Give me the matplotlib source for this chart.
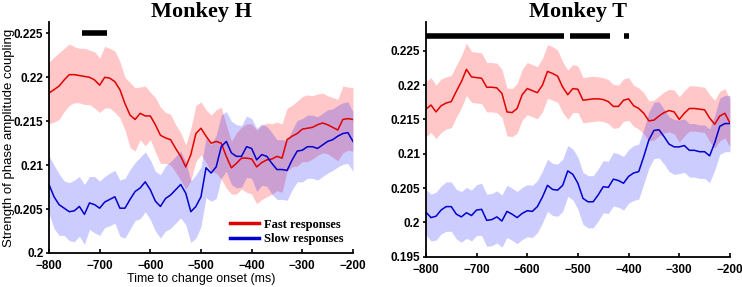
import matplotlib.pyplot as plt
import numpy as np

# time axis (ms before change onset), 10 ms steps
t = np.arange(-800, -199, 10)

# Monkey H
h_fast = [0.2182, 0.2186, 0.2190, 0.2197, 0.2203, 0.2203, 0.2202, 0.2201, 0.2200, 0.2197,
          0.2191, 0.2200, 0.2199, 0.2195, 0.2186, 0.2170, 0.2157, 0.2152, 0.2159, 0.2156,
          0.2156, 0.2146, 0.2134, 0.2131, 0.2129, 0.2119, 0.2110, 0.2098, 0.2112, 0.2136,
          0.2142, 0.2133, 0.2125, 0.2127, 0.2125, 0.2110, 0.2097, 0.2102, 0.2108, 0.2108,
          0.2107, 0.2098, 0.2103, 0.2106, 0.2107, 0.2110, 0.2108, 0.2129, 0.2133, 0.2136,
          0.2141, 0.2142, 0.2143, 0.2146, 0.2148, 0.2146, 0.2143, 0.2140, 0.2152, 0.2153,
          0.2152]
h_fast_sem = [3.5, 3.7, 3.8, 3.6, 3.5, 3.2, 3.1, 3.2, 3.1, 3.2, 3.1, 3.5, 3.4, 3.5, 3.2, 3.0,
              3.7, 3.6, 3.0, 3.4, 2.7, 3.1, 3.2, 2.9, 2.9, 2.7, 2.7, 2.5, 3.0, 3.2, 3.0, 3.0,
              3.2, 3.6, 4.1, 3.6, 3.0, 3.5, 3.5, 3.9, 4.0, 4.2, 4.2, 4.2, 4.0, 3.9, 3.9, 3.6,
              3.5, 3.7, 3.7, 3.8, 3.6, 3.5, 3.4, 3.3, 3.4, 3.5, 3.8, 3.6, 3.6]
h_slow = [0.2078, 0.2064, 0.2055, 0.2051, 0.2047, 0.2048, 0.2053, 0.2044, 0.2057, 0.2055,
          0.2051, 0.2058, 0.2061, 0.2064, 0.2051, 0.2051, 0.2061, 0.2070, 0.2074, 0.2081,
          0.2072, 0.2059, 0.2053, 0.2062, 0.2066, 0.2072, 0.2078, 0.2068, 0.2047, 0.2053,
          0.2064, 0.2097, 0.2091, 0.2098, 0.2121, 0.2127, 0.2114, 0.2110, 0.2110, 0.2121,
          0.2119, 0.2106, 0.2112, 0.2110, 0.2102, 0.2095, 0.2095, 0.2094, 0.2106, 0.2116,
          0.2117, 0.2121, 0.2121, 0.2119, 0.2123, 0.2127, 0.2129, 0.2133, 0.2136, 0.2137,
          0.2127]
h_slow_sem = [3.3, 3.6, 3.5, 3.1, 3.3, 3.5, 3.4, 3.4, 3.0, 3.2, 3.1, 2.9, 3.0, 3.0, 3.2, 3.4,
              3.4, 3.3, 3.5, 3.4, 3.4, 3.4, 3.6, 3.7, 3.8, 3.8, 3.8, 3.6, 3.5, 3.6, 3.4, 3.4,
              3.2, 3.6, 3.6, 3.4, 3.6, 3.6, 3.5, 3.5, 3.4, 3.6, 3.5, 3.4, 3.5, 3.4, 3.4, 3.4,
              3.4, 3.5, 3.6, 3.6, 3.6, 3.6, 3.6, 3.6, 3.5, 3.5, 3.5, 3.5, 3.4]

# Monkey T
t_fast = [0.2165, 0.2171, 0.2161, 0.2170, 0.2174, 0.2176, 0.2191, 0.2205, 0.2223, 0.2212,
          0.2211, 0.2210, 0.2197, 0.2197, 0.2196, 0.2188, 0.2161, 0.2160, 0.2166, 0.2186,
          0.2195, 0.2192, 0.2189, 0.2200, 0.2220, 0.2217, 0.2213, 0.2197, 0.2186, 0.2195,
          0.2194, 0.2178, 0.2179, 0.2180, 0.2180, 0.2179, 0.2176, 0.2169, 0.2169, 0.2178,
          0.2180, 0.2170, 0.2166, 0.2159, 0.2148, 0.2149, 0.2155, 0.2160, 0.2163, 0.2161,
          0.2150, 0.2159, 0.2166, 0.2166, 0.2165, 0.2164, 0.2152, 0.2143, 0.2155, 0.2159,
          0.2145]
t_fast_sem = [4.0, 4.0, 3.9, 3.9, 3.8, 3.8, 3.8, 3.8, 3.8, 3.7, 3.7, 3.7, 3.6, 3.6, 3.6, 3.5,
              3.5, 3.5, 3.6, 3.7, 3.8, 3.8, 3.8, 3.9, 3.9, 3.9, 3.8, 3.7, 3.6, 3.5, 3.4, 3.3,
              3.3, 3.3, 3.2, 3.2, 3.2, 3.2, 3.1, 3.1, 3.1, 3.0, 3.0, 3.0, 2.9, 2.9, 2.9, 3.0,
              3.1, 3.2, 3.3, 3.3, 3.3, 3.3, 3.3, 3.3, 3.4, 3.5, 3.6, 3.6, 3.5]
t_slow = [0.2015, 0.2007, 0.2009, 0.2018, 0.2023, 0.2023, 0.2012, 0.2008, 0.2014, 0.2010,
          0.2018, 0.2019, 0.2003, 0.2004, 0.2008, 0.2002, 0.2016, 0.2012, 0.2007, 0.2013,
          0.2017, 0.2016, 0.2023, 0.2037, 0.2054, 0.2048, 0.2047, 0.2054, 0.2075, 0.2070,
          0.2057, 0.2035, 0.2030, 0.2030, 0.2040, 0.2052, 0.2051, 0.2063, 0.2061, 0.2057,
          0.2067, 0.2072, 0.2074, 0.2096, 0.2120, 0.2134, 0.2135, 0.2125, 0.2114, 0.2110,
          0.2110, 0.2112, 0.2105, 0.2105, 0.2103, 0.2103, 0.2097, 0.2116, 0.2140, 0.2144,
          0.2144]
t_slow_sem = [3.3, 3.4, 3.5, 3.5, 3.6, 3.6, 3.6, 3.7, 3.7, 3.7, 3.7, 3.8, 3.8, 3.8, 3.8, 3.8,
              3.8, 3.8, 3.8, 3.8, 3.8, 3.8, 3.8, 3.8, 3.8, 3.8, 3.8, 3.8, 3.7, 3.7, 3.8, 3.8,
              3.8, 3.8, 3.8, 3.8, 3.8, 3.9, 3.9, 3.9, 3.9, 4.0, 4.0, 4.0, 4.1, 4.1, 4.1, 4.0,
              4.0, 4.0, 3.9, 3.9, 3.9, 3.9, 3.9, 3.9, 3.9, 4.0, 4.1, 4.1, 4.1]

# significance bars (start, end in ms)
h_sig = [(-735, -685)]
t_sig = [(-800, -527), (-515, -437), (-410, -399)]

red_line = '#e00000'
blue_line = '#0000cc'

fig = plt.figure(figsize=(7.42, 2.87), dpi=100)
ax_h = fig.add_axes([0.066, 0.1185, 0.4097, 0.805])
ax_t = fig.add_axes([0.574, 0.1056, 0.4097, 0.8177])

panels = [
    (ax_h, 'Monkey H', h_fast, h_fast_sem, h_slow, h_slow_sem, h_sig, (0.2, 0.2263),
     [0.2, 0.205, 0.21, 0.215, 0.22, 0.225], 0.225),
    (ax_t, 'Monkey T', t_fast, t_fast_sem, t_slow, t_slow_sem, t_sig, (0.195, 0.2292),
     [0.195, 0.2, 0.205, 0.21, 0.215, 0.22, 0.225], 0.2272),
]

for ax, title, fast, fast_sem, slow, slow_sem, sig, ylim, yticks, bar_y in panels:
    fast = np.array(fast)
    slow = np.array(slow)
    fs = np.array(fast_sem) / 1000
    ss = np.array(slow_sem) / 1000
    ax.fill_between(t, fast - fs, fast + fs, color='red', alpha=0.22, lw=0)
    ax.fill_between(t, slow - ss, slow + ss, color='blue', alpha=0.2, lw=0)
    ax.plot(t, fast, color=red_line, lw=1.1, label='Fast responses')
    ax.plot(t, slow, color=blue_line, lw=1.1, label='Slow responses')
    for s, e in sig:
        ax.plot([s, e], [bar_y, bar_y], color='black', lw=4, solid_capstyle='butt', clip_on=False)

    ax.set_xlim(-800, -200)
    ax.set_ylim(*ylim)
    ax.set_xticks(range(-800, -199, 100))
    ax.set_yticks(yticks)
    ax.set_yticklabels([('%g' % v) for v in yticks])
    ax.spines['top'].set_visible(False)
    ax.spines['right'].set_visible(False)
    ax.spines['left'].set_linewidth(1.3)
    ax.spines['bottom'].set_linewidth(1.3)
    ax.tick_params(axis='x', direction='in', length=3, width=1.2, labelsize=8.5, pad=5)
    ax.tick_params(axis='y', direction='out', length=2, width=1.2, labelsize=8.5, pad=2)
    for lab in ax.get_xticklabels() + ax.get_yticklabels():
        lab.set_fontweight('bold')
        lab.set_family('Liberation Sans')
    ax.set_title(title, fontsize=16, fontweight='bold', family='Liberation Serif', pad=3)

ax_h.set_xlabel('Time to change onset (ms)', fontsize=9, family='Liberation Sans', labelpad=1)
ax_h.set_ylabel('Strength of phase amplitude coupling', fontsize=9.5, family='Liberation Sans')
ax_h.yaxis.set_label_coords(-0.112, 0.5)
ax_h.legend(loc='lower right', bbox_to_anchor=(1.005, -0.015), frameon=False, handlelength=2.3,
            handletextpad=0.4, labelspacing=0.2,
            prop={'family': 'Liberation Serif', 'weight': 'bold', 'size': 9})
for line in ax_h.get_legend().get_lines():
    line.set_linewidth(2.5)

fig.savefig('out.png', dpi=100)
